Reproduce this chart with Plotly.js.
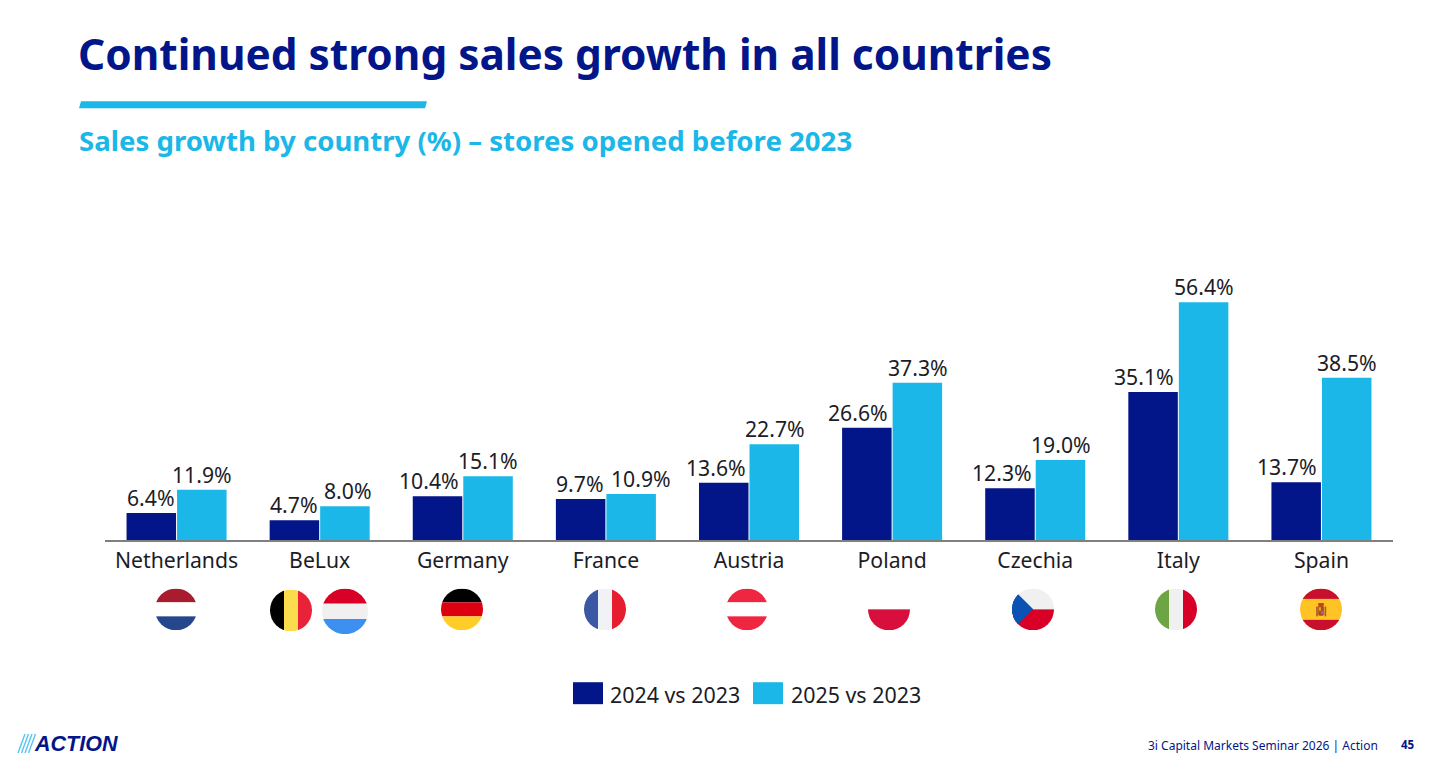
<!DOCTYPE html>
<html>
<head>
<meta charset="utf-8">
<script src="https://cdn.plot.ly/plotly-3.0.1.min.js"></script>
<style>
    html, body { margin: 0; padding: 0; background: #fff; }
</style>
</head>
<body>
<div id="chart" style="width:1451px;height:781px"></div>
<script>
const countries = ['Netherlands', 'BeLux', 'Germany', 'France', 'Austria', 'Poland', 'Czechia', 'Italy', 'Spain']
const growth2024 = [6.4, 4.7, 10.4, 9.7, 13.6, 26.6, 12.3, 35.1, 13.7]
const growth2025 = [11.9, 8.0, 15.1, 10.9, 22.7, 37.3, 19.0, 56.4, 38.5]
const seriesNames = ['2024 vs 2023', '2025 vs 2023']

// the slide nudges some value labels sideways so they do not collide
const labelShift2024 = [0, 0, -8, 0, -8, -9, -8, -9, -9]
const labelShift2025 = [0, 3, 0, 10, 0, 0, 0, 0, 0]

const NAVY = '#021689'
const SKY = '#1bb7e8'
const INK = '#1c1c26'
const FONT = '"Noto Sans", sans-serif'
const W = 1451
const H = 781
const M = { l: 105, r: 58, t: 287, b: 240.5 }

// page pixels to paper coordinates
let px = x => (x - M.l) / (W - M.l - M.r)
let py = y => (H - M.b - y) / (H - M.t - M.b)

function pageText(x, y, text, size, color, anchor, family) {
    return {
        xref: 'paper', yref: 'paper', x: px(x), y: py(y), text: text,
        showarrow: false, xanchor: anchor || 'left', yanchor: 'middle',
        font: { size: size, color: color, family: family || FONT }
    }
}

function valueLabels(values, shifts, offset) {
    return values.map((v, i) => ({
        x: i, y: v, xref: 'x', yref: 'y', text: v.toFixed(1) + '%',
        showarrow: false, xanchor: 'center', yanchor: 'bottom',
        xshift: offset + shifts[i], yshift: -1,
        font: { size: 21.2, color: INK, family: FONT }
    }))
}

function flagImage(cx, cy, r, body) {
    let svg = `<svg xmlns="http://www.w3.org/2000/svg" viewBox="0 0 60 60" width="240" height="240">` +
        `<defs><clipPath id="c"><circle cx="30" cy="30" r="30"/></clipPath></defs>` +
        `<g clip-path="url(#c)">${body}</g></svg>`
    return {
        source: 'data:image/svg+xml;charset=utf-8,' + encodeURIComponent(svg),
        xref: 'paper', yref: 'paper', xanchor: 'left', yanchor: 'top',
        x: px(cx - r), y: py(cy - r), sizex: 2 * r / (W - M.l - M.r), sizey: 2 * r / (H - M.t - M.b),
        sizing: 'stretch', layer: 'above'
    }
}

let hStripes = (a, b, c) => `<rect width="60" height="20" fill="${a}"/><rect y="20" width="60" height="20" fill="${b}"/><rect y="40" width="60" height="20" fill="${c}"/>`
let vStripes = (a, b, c) => `<rect width="20" height="60" fill="${a}"/><rect x="20" width="20" height="60" fill="${b}"/><rect x="40" width="20" height="60" fill="${c}"/>`

const flags = [
    flagImage(176, 610, 21, hStripes('#a81c2e', '#ffffff', '#26478c')),
    flagImage(291, 611, 21, vStripes('#000000', '#fbdc4c', '#ea2239')),
    flagImage(345, 612, 23, hStripes('#d80027', '#f0f0f0', '#3d8ff0')),
    flagImage(462, 610, 21, hStripes('#000000', '#dd0010', '#ffcd28')),
    flagImage(605, 610, 21, vStripes('#3a58a4', '#f1f2f6', '#e51d2e')),
    flagImage(747, 610, 21, hStripes('#ef2640', '#ffffff', '#ef2640')),
    flagImage(889, 610, 21, `<rect y="30" width="60" height="30" fill="#d80e3c"/>`),
    flagImage(1033, 610, 21, `<rect width="60" height="30" fill="#f0f0f0"/><rect y="30" width="60" height="30" fill="#d80027"/><path d="M0 0L30 30L0 60Z" fill="#0a52b4"/><path d="M6 6L30 30L6 54L0 54L0 6Z" fill="#0a52b4"/>`),
    flagImage(1176, 610, 21, vStripes('#6da544', '#f0f0f0', '#d80027')),
    flagImage(1321, 610, 21, `<rect width="60" height="60" fill="#ffc325"/><rect width="60" height="15" fill="#c8102e"/><rect y="45" width="60" height="15" fill="#c8102e"/>` +
        `<rect x="23" y="26" width="2.5" height="14" fill="#9a6a2a"/><rect x="35" y="26" width="2.5" height="14" fill="#9a6a2a"/><rect x="26" y="21" width="8" height="4" fill="#b8431f"/><rect x="26" y="25" width="8" height="14" rx="2" fill="#b8431f"/><rect x="27" y="27" width="3" height="5" fill="#e0a030"/><rect x="30" y="32" width="3" height="5" fill="#8a6ab0"/>`)
]

const traces = [
    { type: 'bar', name: seriesNames[0], x: countries, y: growth2024, marker: { color: NAVY } },
    { type: 'bar', name: seriesNames[1], x: countries, y: growth2025, marker: { color: SKY } }
]

// four thin slanted strokes in front of the logo word
const logoSlashes = [18, 21.5, 25, 28.5].map(x => ({
    type: 'line', xref: 'paper', yref: 'paper', line: { color: '#58c6ec', width: 1.4 },
    x0: px(x), y0: py(754), x1: px(x + 7), y1: py(735)
}))

const layout = {
    width: W,
    height: H,
    margin: M,
    paper_bgcolor: '#fff',
    plot_bgcolor: '#fff',
    barmode: 'group',
    bargap: 0.294,
    bargroupgap: 0.02,
    showlegend: false,
    font: { family: FONT, color: INK },
    xaxis: {
        type: 'category', categoryorder: 'array', categoryarray: countries,
        showline: true, linecolor: '#7f7f7f', linewidth: 1.5,
        ticks: '', tickfont: { size: 21.2, color: INK, family: FONT },
        showgrid: false, zeroline: false, fixedrange: true, ticklabelstandoff: 1
    },
    yaxis: { range: [0, 60], visible: false, fixedrange: true },
    shapes: [
        // accent bar under the title, slanted ends
        { type: 'path', xref: 'paper', yref: 'paper', line: { width: 0 }, fillcolor: SKY,
          path: `M${px(81)},${py(101)} L${px(427)},${py(101)} L${px(425)},${py(108)} L${px(79)},${py(108)} Z` },
        { type: 'rect', xref: 'paper', yref: 'paper', line: { width: 0 }, fillcolor: NAVY,
          x0: px(573), x1: px(603), y0: py(683), y1: py(705) },
        { type: 'rect', xref: 'paper', yref: 'paper', line: { width: 0 }, fillcolor: SKY,
          x0: px(753), x1: px(783), y0: py(683), y1: py(705) }
    ].concat(logoSlashes),
    images: flags,
    annotations: [
        pageText(76, 53, '<b>Continued strong sales growth in all countries</b>', 42.4, NAVY),
        pageText(77, 139.5, '<b>Sales growth by country (%) – stores opened before 2023</b>', 27.6, SKY),
        pageText(608, 695, seriesNames[0], 21.4, INK),
        pageText(789, 695, seriesNames[1], 21.4, INK),
        pageText(32, 744.5, '<b><i>ACTION</i></b>', 21.5, NAVY, 'left', '"Liberation Sans", sans-serif'),
        pageText(1380, 746, '3i Capital Markets Seminar 2026 | Action', 12, NAVY, 'right'),
        pageText(1417, 745, '<b>45</b>', 11.5, NAVY, 'right')
    ].concat(valueLabels(growth2024, labelShift2024, -25.5), valueLabels(growth2025, labelShift2025, 25.5))
}

Plotly.newPlot('chart', traces, layout, { displayModeBar: false, responsive: false })
</script>
</body>
</html>
